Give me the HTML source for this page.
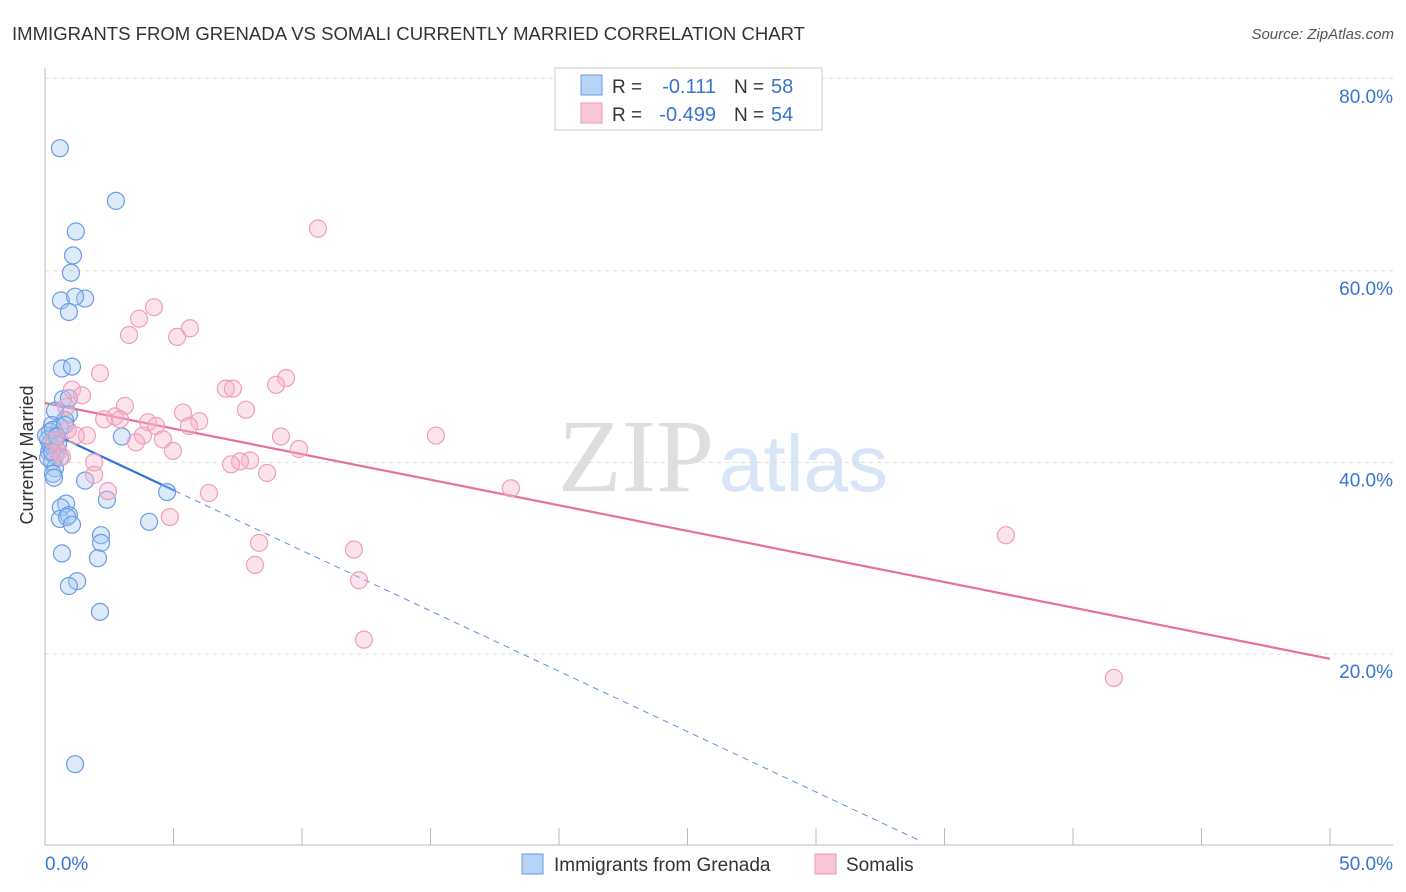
<!DOCTYPE html>
<html><head><meta charset="utf-8"><style>
body{margin:0;background:#fff;font-family:"Liberation Sans",sans-serif;}
#wrap{position:relative;width:1406px;height:892px;overflow:hidden}
</style></head><body>
<div id="wrap">
<svg id="svg" width="1406" height="892" xmlns="http://www.w3.org/2000/svg">
<text x="12" y="40" font-size="18" fill="#333" textLength="793" lengthAdjust="spacingAndGlyphs">IMMIGRANTS FROM GRENADA VS SOMALI CURRENTLY MARRIED CORRELATION CHART</text>
<text x="1394" y="39" font-size="15" fill="#555" font-style="italic" text-anchor="end">Source: ZipAtlas.com</text>
<text x="33" y="455" font-size="18" fill="#333" text-anchor="middle" transform="rotate(-90 33 455)">Currently Married</text>
<text x="714" y="491" font-size="104" fill="#dedede" font-family="Liberation Serif,serif" text-anchor="end">ZIP</text>
<text x="719" y="491" font-size="80" fill="#d8e5f6">atlas</text>
<g id="grid"></g><g id="axes"></g><g id="lines"></g><g id="pts"></g>
<g>
<rect x="555" y="68" width="267" height="62" fill="#fff" stroke="#ccc"/>
<rect x="581" y="75" width="21" height="20" fill="#b8d3f5" stroke="#6a9ee0"/>
<rect x="581" y="103" width="21" height="20" fill="#f8c6d6" stroke="#ec9ab5"/>
<text x="612" y="93" font-size="19" fill="#333">R =</text><text x="716" y="93" font-size="20" fill="#3a74d0" text-anchor="end">-0.111</text>
<text x="734" y="93" font-size="19" fill="#333">N =</text><text x="771" y="93" font-size="20" fill="#3a74d0">58</text>
<text x="612" y="121" font-size="19" fill="#333">R =</text><text x="716" y="121" font-size="20" fill="#3a74d0" text-anchor="end">-0.499</text>
<text x="734" y="121" font-size="19" fill="#333">N =</text><text x="771" y="121" font-size="20" fill="#3a74d0">54</text>
</g>
<g>
<rect x="522" y="854" width="21" height="20" fill="#b8d3f5" stroke="#6a9ee0"/>
<text x="554" y="871" font-size="19" fill="#333">Immigrants from Grenada</text>
<rect x="815" y="854" width="21" height="20" fill="#f8c6d6" stroke="#ec9ab5"/>
<text x="846" y="871" font-size="19" fill="#333">Somalis</text>
</g>
</svg>
</div>
<script>
const yTicks=[20,40,60,80];
const yTickLabels=["20.0%","40.0%","60.0%","80.0%"];
const xLabels=["0.0%","50.0%"];
const blueX=[0.58,2.76,1.2,1.09,1.01,0.62,1.56,1.17,0.93,0.66,1.05,0.7,0.93,0.93,0.39,0.78,0.27,0.58,0.19,0.43,0.35,0.27,0.47,0.16,0.39,0.58,0.27,0.39,0.31,0.35,1.56,2.99,2.41,4.75,0.82,0.62,0.58,0.93,0.86,1.05,2.18,2.18,4.05,0.66,2.06,1.25,0.93,2.14,1.17,0.12,0.19,0.51,0.04,0.12,0.31,0.78,0.27,0.47];
const blueY=[72.8,67.3,64.1,61.6,59.8,56.9,57.1,57.3,55.7,49.8,50.0,46.6,46.7,45.0,45.4,44.4,43.9,43.7,43.2,42.8,42.3,41.7,41.3,41.1,40.7,40.5,40.1,39.4,38.8,38.4,38.1,42.7,36.1,36.9,35.7,35.3,34.1,34.5,34.3,33.5,32.4,31.6,33.8,30.5,30.0,27.6,27.1,24.4,8.5,42.4,41.9,41.9,42.8,40.5,43.4,43.9,41.1,42.7];
const pinkX=[10.62,4.24,3.66,5.64,5.14,3.27,2.14,9.38,8.99,7.04,7.31,1.05,1.44,7.82,3.11,0.82,2.72,4.01,2.3,5.37,2.92,6.0,4.32,3.81,5.6,1.63,1.2,4.59,9.18,15.21,3.54,4.98,9.88,0.51,1.91,7.98,7.59,7.24,8.64,1.91,2.45,6.38,18.13,4.86,8.33,12.02,37.39,8.17,12.22,12.41,41.59,0.66,0.89,0.35];
const pinkY=[64.4,56.2,55.0,54.0,53.1,53.3,49.3,48.8,48.1,47.7,47.7,47.6,47.0,45.5,45.9,45.8,44.8,44.2,44.5,45.2,44.5,44.3,43.8,42.8,43.8,42.8,42.8,42.4,42.7,42.8,42.1,41.2,41.4,41.1,40.0,40.2,40.1,39.8,38.9,38.7,37.0,36.8,37.3,34.3,31.6,30.9,32.4,29.3,27.7,21.5,17.5,40.6,43.4,42.3];
const pinkLine=[46.2,19.5];
const blueLine=[43.4,-1.26,5.06,34];
const X=v=>45+v*25.7, Y=v=>654-(v-20)*9.58;
const NS="http://www.w3.org/2000/svg";
function mk(p,t,a){const e=document.createElementNS(NS,t);for(const k in a)e.setAttribute(k,a[k]);p.appendChild(e);return e;}
const grid=document.getElementById('grid'),axes=document.getElementById('axes'),lines=document.getElementById('lines'),pts=document.getElementById('pts');
yTicks.forEach((v,i)=>{
 const l=mk(grid,'line',{x1:45,x2:1393,y1:Y(v)-(v==80?1:0),y2:Y(v)-(v==80?1:0),stroke:'#ddd','stroke-dasharray':'4,4'});
 
 
 const t=mk(axes,'text',{x:1393,y:Y(v)+24,'font-size':19,fill:'#3a74d0','text-anchor':'end'});
 t.textContent=yTickLabels[i];
 
 
});
const ax=mk(axes,'line',{x1:45,x2:1393,y1:845,y2:845,stroke:'#bbb'});


const ay=mk(axes,'line',{x1:45,x2:45,y1:68,y2:845,stroke:'#bbb'});


for(let i=0;i<=10;i++){const tk=mk(axes,'line',{x1:X(i*5),x2:X(i*5),y1:828,y2:845,stroke:'#bbb'});
 
 }
[[0,'start',45],[50,'end',1393]].forEach((d,i)=>{const t=mk(axes,'text',{x:d[2],y:870,'font-size':19,fill:'#3a74d0','text-anchor':d[1]});t.textContent=xLabels[i];
 
 });
function dot(x,y,f,s,n){const c=mk(pts,'circle',{cx:X(x),cy:Y(y),r:8.5,fill:f,stroke:s,'stroke-width':1.2});
 
 }
blueX.forEach((x,i)=>dot(x,blueY[i],'rgba(165,200,243,0.38)','#6b9de2','grenada-point'));
pinkX.forEach((x,i)=>dot(x,pinkY[i],'rgba(247,180,204,0.38)','#ef9fba','somalis-point'));
const pl=mk(lines,'line',{x1:X(0),y1:Y(pinkLine[0]),x2:X(50),y2:Y(pinkLine[1]),stroke:'#e8709a','stroke-width':2.2});


const by=x=>blueLine[0]+blueLine[1]*x;
const bl=mk(lines,'line',{x1:X(0),y1:Y(by(0)),x2:X(blueLine[2]),y2:Y(by(blueLine[2])),stroke:'#2f6fd8','stroke-width':2.2});


const bd=mk(lines,'line',{x1:X(blueLine[2]),y1:Y(by(blueLine[2])),x2:X(blueLine[3]),y2:Y(by(blueLine[3])),stroke:'#5d8fdc','stroke-width':1,'stroke-dasharray':'6,5'});


</script>
</body></html>
